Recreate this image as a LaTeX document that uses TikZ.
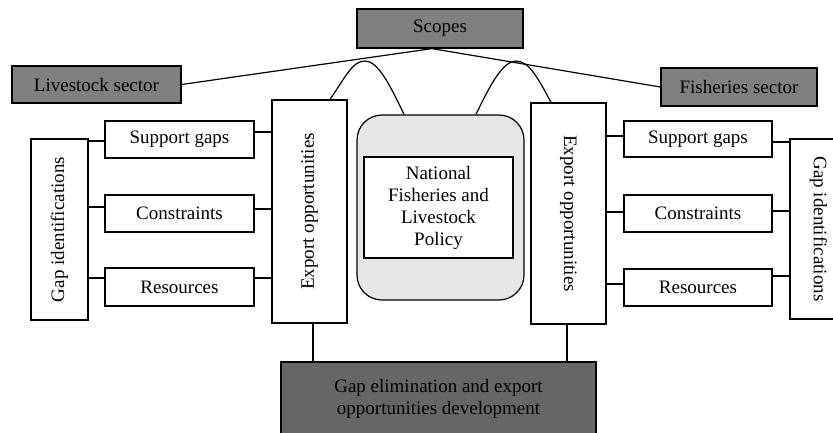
\documentclass[tikz,border=0pt]{standalone}
\usepackage{fontspec}
\setmainfont{Liberation Serif}
\begin{document}
\begin{tikzpicture}[x=1pt,y=-1pt,
  every node/.style={font=\fontsize{19}{22}\selectfont},
  box/.style={draw=black,line width=1.2pt,inner sep=0pt,align=center,fill=white},
  darkbox/.style={box,fill=midgray},
  conn/.style={draw=black,line width=1.2pt}]
\definecolor{midgray}{HTML}{808080}
\definecolor{darkgray2}{HTML}{666666}
\definecolor{lightgray2}{HTML}{E6E6E6}
\useasboundingbox (0,0) rectangle (833,432);
% top
\node[darkbox,minimum width=166pt,minimum height=39pt] (scopes) at (440,28.5) {Scopes};
\node[darkbox,minimum width=169pt,minimum height=37pt] (livL) at (96.5,84.5) {Livestock sector};
\node[darkbox,minimum width=156pt,minimum height=38pt] (fishR) at (739,87) {Fisheries sector};
% export boxes
\node[box,minimum width=75pt,minimum height=223pt] (expL) at (309.5,211.5) {};
\node[rotate=90] at (expL.center) {Export opportunities};
\node[box,minimum width=75pt,minimum height=221pt] (expR) at (568.5,213.5) {};
\node[rotate=-90] at (expR.center) {Export opportunities};
% policy
\node[box,fill=lightgray2,rounded corners=25pt,minimum width=167pt,minimum height=185pt] (nflp) at (440.5,207.5) {};
\node[box,minimum width=149pt,minimum height=101pt] (nflpin) at (438.5,207.5) {National\\Fisheries and\\Livestock\\Policy};
% left column
\node[box,minimum width=149pt,minimum height=37pt] (sgL) at (179.5,139.5) {Support gaps};
\node[box,minimum width=149pt,minimum height=37pt] (conL) at (179.5,213.5) {Constraints};
\node[box,minimum width=149pt,minimum height=38pt] (resL) at (179.5,287) {Resources};
\node[box,minimum width=57pt,minimum height=181pt] (gapL) at (59.5,229.5) {};
\node[rotate=90] at (gapL.center) {Gap identifications};
% right column
\node[box,minimum width=148pt,minimum height=36pt] (sgR) at (698,139) {Support gaps};
\node[box,minimum width=148pt,minimum height=37pt] (conR) at (698,213.5) {Constraints};
\node[box,minimum width=148pt,minimum height=37pt] (resR) at (698,287.5) {Resources};
\node[box,minimum width=57pt,minimum height=180pt] (gapR) at (818.5,229) {};
\node[rotate=-90] at (gapR.center) {Gap identifications};
% bottom
\node[box,fill=darkgray2,minimum width=315pt,minimum height=74pt] (gapel) at (438.5,399) {Gap elimination and export\\opportunities development};
% scope lines
\coordinate (sc) at ([xshift=-8pt]scopes.south);
\draw[conn] (livL.east) -- (sc) -- (fishR.west);
% arcs
\coordinate (a1) at ([xshift=20.5pt]expL.north);
\coordinate (a2) at ([xshift=-36.5pt]nflp.north);
\coordinate (a3) at ([xshift=35.5pt]nflp.north);
\coordinate (a4) at ([xshift=-17.5pt]expR.north);
\draw[conn] (a1) .. controls (345,78) and (352,61) .. (365,61) .. controls (378,61) and (390,85) .. (a2);
\draw[conn] (a3) .. controls (490,85) and (503,61) .. (516,61) .. controls (529,61) and (538,78) .. (a4);
% left connectors
\draw[conn] (gapL.east |- 0,141) -- (sgL.west |- 0,141);
\draw[conn] (sgL.east |- 0,132) -- (expL.west |- 0,132);
\draw[conn] (gapL.east |- 0,207) -- (conL.west |- 0,207);
\draw[conn] (conL.east |- 0,209) -- (expL.west |- 0,209);
\draw[conn] (gapL.east |- 0,278) -- (resL.west |- 0,278);
\draw[conn] (resL.east |- 0,278) -- (expL.west |- 0,278);
% right connectors
\draw[conn] (expR.east |- 0,136) -- (sgR.west |- 0,136);
\draw[conn] (sgR.east |- 0,142) -- (gapR.west |- 0,142);
\draw[conn] (expR.east |- 0,212) -- (conR.west |- 0,212);
\draw[conn] (conR.east |- 0,211) -- (gapR.west |- 0,211);
\draw[conn] (expR.east |- 0,284) -- (resR.west |- 0,284);
\draw[conn] (resR.east |- 0,276) -- (gapR.west |- 0,276);
% verticals
\draw[conn] ([xshift=3.5pt]expL.south) -- ([xshift=3.5pt]expL.south |- gapel.north);
\draw[conn] ([xshift=-1.5pt]expR.south) -- ([xshift=-1.5pt]expR.south |- gapel.north);
\end{tikzpicture}
\end{document}
